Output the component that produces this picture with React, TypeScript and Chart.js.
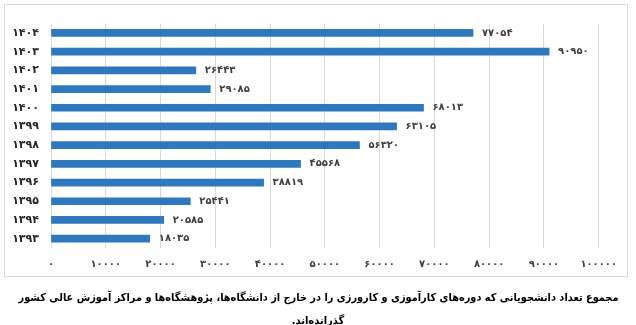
import React, { useEffect, useRef } from "react";
import { Chart, registerables } from "chart.js";

Chart.register(...registerables);

const years = ["۱۴۰۴", "۱۴۰۳", "۱۴۰۲", "۱۴۰۱", "۱۴۰۰", "۱۳۹۹", "۱۳۹۸", "۱۳۹۷", "۱۳۹۶", "۱۳۹۵", "۱۳۹۴", "۱۳۹۳"];
const students = [77054, 90950, 26443, 29085, 68013, 63105, 56320, 45568, 38819, 25441, 20585, 18035];
const xMax = 100000;
const xStep = 10000;
const captionLine1 = "مجموع تعداد دانشجویانی که دوره‌های کارآموزی و کارورزی را در خارج از دانشگاه‌ها، پژوهشگاه‌ها و مراکز آموزش عالی کشور";
const captionLine2 = "گذرانده‌اند.";

const FONT = "'DejaVu Sans', sans-serif";
const CAPTION_FONT = "'DejaVu Sans Condensed', 'DejaVu Sans', sans-serif";

function fa(n: number | string): string {
  return String(n).replace(/\d/g, (d) => "۰۱۲۳۴۵۶۷۸۹"[Number(d)]);
}

const valueLabels = {
  id: "valueLabels",
  afterDatasetsDraw(chart: any) {
    const ctx = chart.ctx;
    const meta = chart.getDatasetMeta(0);
    ctx.save();
    ctx.font = `bold 10px ${FONT}`;
    ctx.fillStyle = "#404040";
    ctx.textAlign = "left";
    ctx.textBaseline = "middle";
    meta.data.forEach((bar: any, i: number) => {
      ctx.fillText(fa(students[i]), bar.x + 9, bar.y);
    });
    ctx.restore();
  },
};

export default function App() {
  const ref = useRef<HTMLCanvasElement | null>(null);
  const capRef = useRef<HTMLDivElement | null>(null);
  useEffect(() => {
    if (capRef.current) {
      const w = capRef.current.scrollWidth;
      const target = 600;
      if (w > 0) capRef.current.style.transform = `scaleX(${target / w})`;
    }
    if (!ref.current) return;
    const chart = new Chart(ref.current, {
      type: "bar",
      data: {
        labels: years,
        datasets: [
          {
            data: students,
            backgroundColor: "#2e78bd",
            barThickness: 7,
          },
        ],
      },
      options: {
        indexAxis: "y",
        animation: false,
        responsive: false,
        maintainAspectRatio: false,
        layout: { padding: { top: 13, right: 26, left: 0, bottom: 0 } },
        plugins: { legend: { display: false }, tooltip: { enabled: false } },
        scales: {
          x: {
            min: 0,
            max: xMax,
            ticks: {
              stepSize: xStep,
              color: "#404040",
              font: { family: FONT, size: 10, weight: "bold" },
              padding: 10,
              maxRotation: 0,
              callback: (v: any) => fa(v),
            },
            grid: { color: "#d9d9d9", drawTicks: false },
            border: { display: false },
            afterFit: (s: any) => {
              s.height = 28;
            },
          },
          y: {
            ticks: {
              color: "#262626",
              font: { family: FONT, size: 11, weight: "bold" },
              padding: 12,
            },
            grid: { display: false, drawTicks: false },
            border: { display: false },
            afterFit: (s: any) => {
              s.width = 46;
            },
          },
        },
      },
      plugins: [valueLabels],
    });
    return () => chart.destroy();
  }, []);

  return (
    <div style={{ position: "fixed", left: 0, top: 0, width: 636, height: 325, background: "#fff" }}>
      <div
        style={{
          position: "absolute",
          left: 4,
          top: 4,
          width: 622,
          height: 271,
          border: "1px solid #d9d9d9",
        }}
      >
        <canvas ref={ref} width={622} height={271} style={{ display: "block", width: 622, height: 271 }} />
      </div>
      <div
        dir="rtl"
        style={{
          position: "absolute",
          left: 0,
          top: 286,
          width: 636,
          textAlign: "center",
          fontFamily: CAPTION_FONT,
          fontWeight: "bold",
          fontSize: 11,
          color: "#000",
          lineHeight: "23px",
          whiteSpace: "nowrap",
        }}
      >
        <div style={{ display: "flex", justifyContent: "center" }}>
          <div ref={capRef} style={{ display: "inline-block", transformOrigin: "center" }}>{captionLine1}</div>
        </div>
        <div>{captionLine2}</div>
      </div>
    </div>
  );
}
